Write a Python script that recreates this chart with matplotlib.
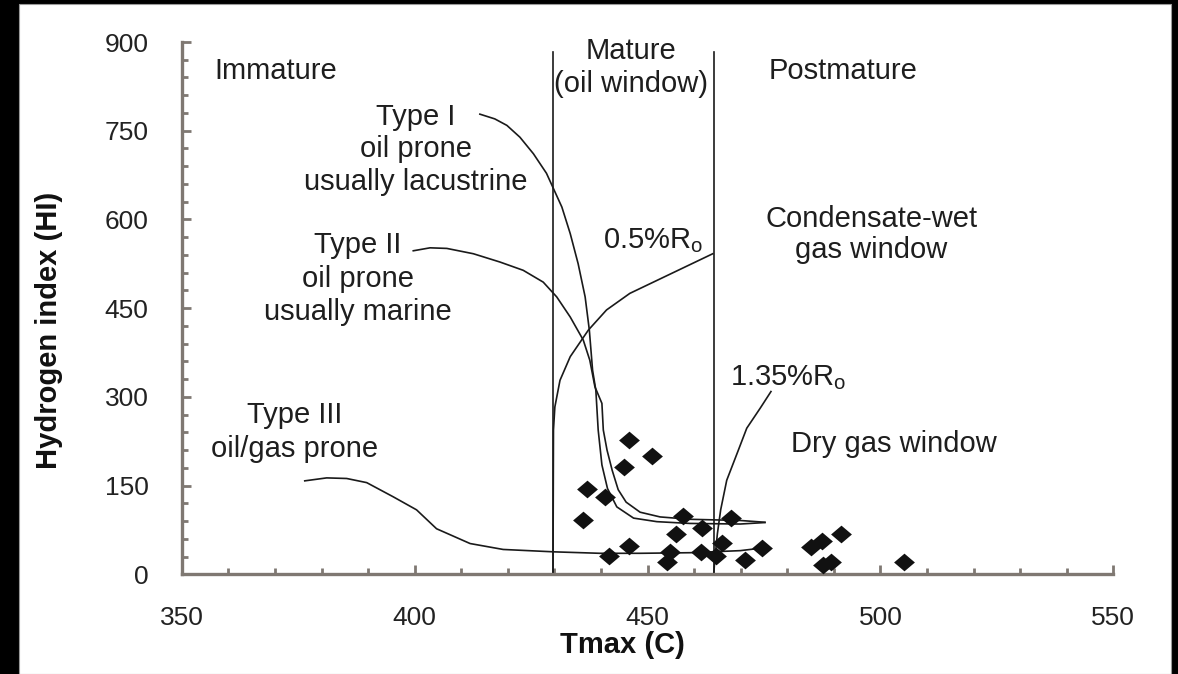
import matplotlib
matplotlib.use("Agg")
import matplotlib.pyplot as plt
from matplotlib.patches import Rectangle
import numpy as np

plt.rcParams['font.family'] = ['Liberation Sans', 'DejaVu Sans']

# ---- data ----
sample_tmax = [446.0, 450.9, 444.9, 437.1, 440.8, 436.1, 457.6, 461.6, 456.2, 446.0,
               441.7, 454.9, 454.1, 461.4, 467.9, 466.0, 464.8, 474.5, 471.0, 485.0,
               487.5, 491.6, 487.7, 489.3, 505.0]
sample_hi = [227, 200, 182, 145, 130, 92, 98, 79, 68, 48,
             31, 38, 21, 37, 96, 53, 31, 45, 24, 47,
             56, 68, 15, 21, 20]

type1_tmax = [414.0, 417.2, 419.8, 422.6, 425.5, 428.3, 431.6, 433.4, 435.1, 436.6, 437.5,
              438.2, 438.9, 439.4, 440.2, 441.4, 443.4, 447.0, 452.0, 459.1, 469.9, 475.2]
type1_hi = [778, 770, 759, 739, 711, 678, 621, 576, 525, 469, 413,
            345, 311, 244, 185, 145, 114, 95, 89, 86, 85, 87.5]

type2_tmax = [399.7, 403.3, 406.9, 412.6, 418.3, 423.3, 427.6, 430.5, 433.4, 436.2, 437.6,
              438.7, 440.2, 440.5, 441.3, 442.4, 443.7, 445.4, 448.4, 452.7, 459.1, 469.9, 475.2]
type2_hi = [547, 552, 551, 542, 528, 514, 494, 469, 435, 396, 362,
            317, 289, 244, 210, 176, 143, 122, 105, 97, 93, 91, 88]

type3_tmax = [376.4, 381.1, 385.4, 389.7, 395.4, 400.4, 404.7, 411.9, 419.0, 429.8,
              439.8, 448.4, 459.1, 469.9, 473.1]
type3_hi = [158, 163, 162, 155, 131, 109, 77, 52, 42, 38, 35.5, 35.5, 36.5, 40, 43]

ro05_tmax = [464.0, 446.2, 441.2, 437.3, 433.4, 431.2, 430.1, 429.8, 429.7]
ro05_hi = [542, 475, 447, 413, 368, 328, 283, 244, 0]

ro135_tmax = [476.5, 474.2, 471.3, 469.5, 467.0, 465.7, 465.0, 464.5, 464.2]
ro135_hi = [309, 281, 247, 210, 159, 109, 69, 30, 0]

boundary_tmax = [429.7, 464.2]
boundary_top = 883

x_ticks = [350, 400, 450, 500, 550]
y_ticks = [0, 150, 300, 450, 600, 750, 900]

# ---- figure ----
W, H = 1178, 674
fig = plt.figure(figsize=(W / 100, H / 100), dpi=100, facecolor='black')
fig.patches.append(Rectangle((19 / W, 0), (1171 - 19) / W, (H - 4) / H,
                             transform=fig.transFigure, facecolor='white',
                             edgecolor='#9a9a9a', linewidth=0.8, zorder=-10))

ax = fig.add_axes([181.8 / W, (H - 574.3) / H, (1113.3 - 181.8) / W, (574.3 - 42) / H])
ax.set_facecolor('none')
ax.set_zorder(1)
ax.set_xlim(350, 550)
ax.set_ylim(0, 900)

spine_col = '#7f7872'
for s in ['top', 'right']:
    ax.spines[s].set_visible(False)
for s in ['left', 'bottom']:
    ax.spines[s].set_color(spine_col)
    ax.spines[s].set_linewidth(2.4)

ax.set_xticks(x_ticks)
ax.set_yticks(y_ticks)
ax.set_xticks(np.arange(350, 551, 10), minor=True)
ax.set_yticks(np.arange(0, 901, 30), minor=True)
ax.tick_params(which='both', direction='in', color=spine_col, width=2.0)
ax.tick_params(which='major', length=6.5)
ax.tick_params(which='minor', length=4.5)
ax.tick_params(axis='x', which='major', pad=23, labelsize=19, labelcolor='#222222')
ax.tick_params(axis='y', which='major', pad=24, labelsize=19, labelcolor='#222222')

lc = '#1a1a1a'
lw = 1.2
for xb in boundary_tmax:
    ax.plot([xb, xb], [0, boundary_top], color=lc, lw=lw, clip_on=False)
ax.plot(type1_tmax, type1_hi, color=lc, lw=lw)
ax.plot(type2_tmax, type2_hi, color=lc, lw=lw)
ax.plot(type3_tmax, type3_hi, color=lc, lw=lw)
ax.plot(ro05_tmax, ro05_hi, color=lc, lw=lw)
ax.plot(ro135_tmax, ro135_hi, color=lc, lw=lw)

diamond = [(-1, 0), (0, 0.85), (1, 0), (0, -0.85), (-1, 0)]
ax.scatter(sample_tmax, sample_hi, marker=diamond, s=15 ** 2, color='#111111',
           linewidths=0, zorder=5)

fs = 21
tc = '#1e1e1e'
def t(x, y, s, ha='center'):
    ax.text(x, y, s, ha=ha, va='baseline', fontsize=fs, color=tc, clip_on=False)

t(357.1, 838, 'Immature', ha='left')
t(446.5, 872, 'Mature')
t(446.5, 815.5, '(oil window)')
t(476.1, 838, 'Postmature', ha='left')
t(400.3, 759, 'Type I')
t(400.3, 705, 'oil prone')
t(400.3, 649.4, 'usually lacustrine')
t(387.8, 543, 'Type II')
t(387.8, 486, 'oil prone')
t(387.8, 430, 'usually marine')
t(374.3, 255, 'Type III')
t(374.3, 197.7, 'oil/gas prone')
t(440.4, 551, '0.5%R$_\\mathregular{o}$', ha='left')
t(498, 587.4, 'Condensate-wet')
t(498, 534, 'gas window')
t(467.7, 320, '1.35%R$_\\mathregular{o}$', ha='left')
t(480.8, 206.7, 'Dry gas window', ha='left')

ax.text(444.6, -133.5, 'Tmax (C)', ha='center', va='baseline', fontsize=21,
        fontweight='bold', color='#111111', clip_on=False)
ax.text(323.1, 412.8, 'Hydrogen index (HI)', ha='center', va='baseline', rotation=90,
        rotation_mode='anchor', fontsize=21, fontweight='bold', color='#111111',
        clip_on=False)

fig.savefig('out.png', dpi=100, facecolor=fig.get_facecolor())
